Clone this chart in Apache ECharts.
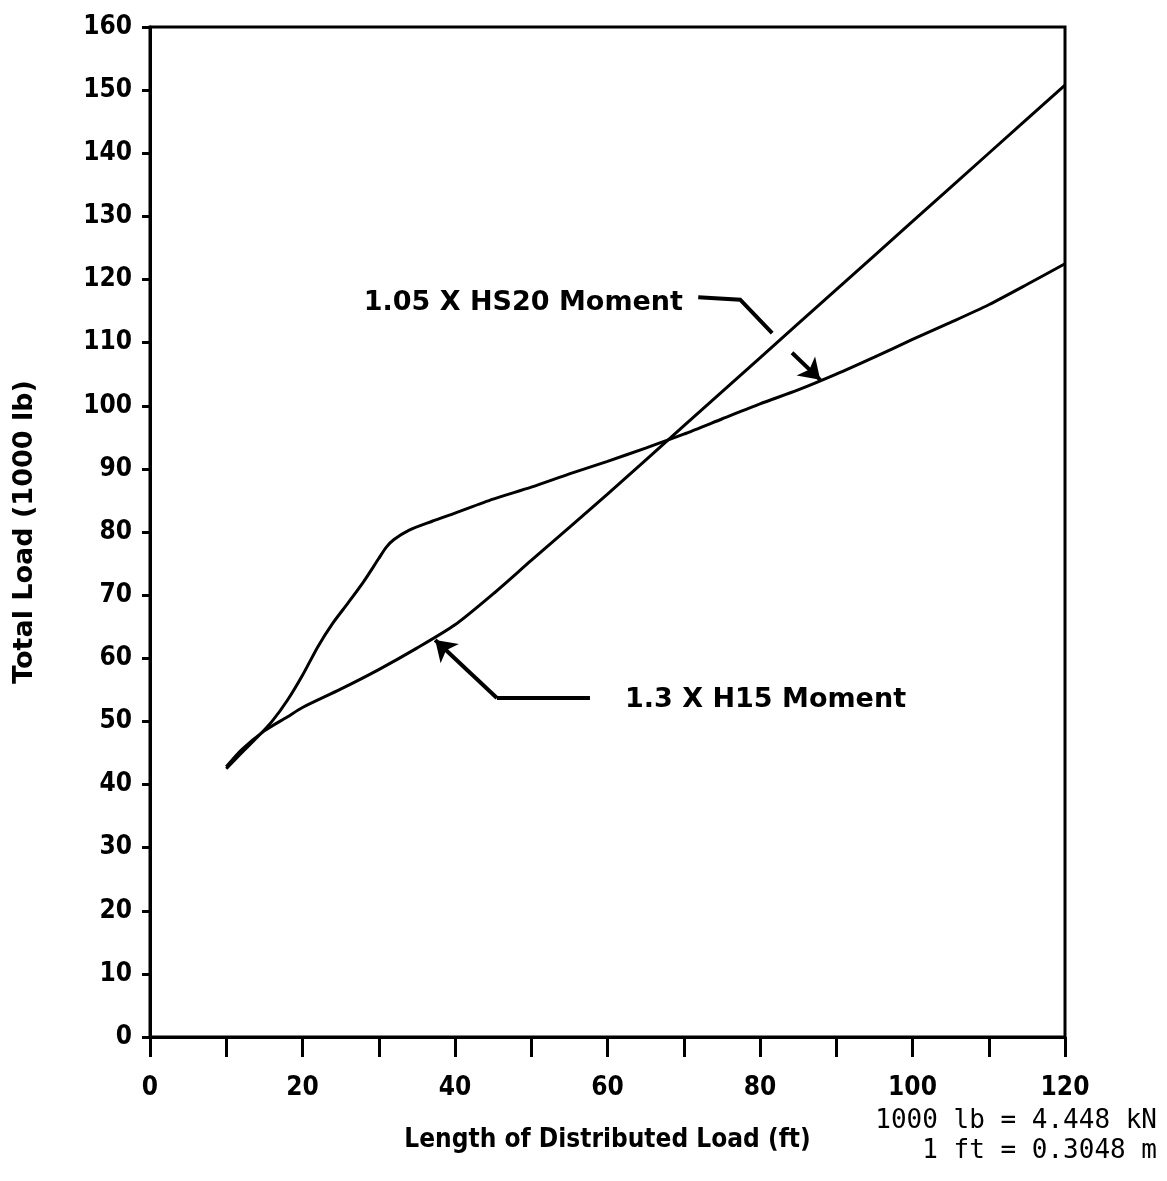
<!DOCTYPE html>
<html>
<head>
<meta charset="utf-8">
<script src="https://cdn.jsdelivr.net/npm/echarts@6/dist/echarts.min.js"></script>
<style>
html,body{margin:0;padding:0;background:#fff;}
#chart{width:1167px;height:1181px;}
</style>
</head>
<body>
<div id="chart"></div>
<script>
// ---- data ----
var hs20X = [10, 12, 14, 16, 18, 20, 22, 24, 26, 28, 30, 31, 32, 34, 37, 40, 45, 50, 55, 60, 65, 70, 75, 80, 85, 90, 95, 100, 105, 110, 115, 120];
var hs20Y = [42.5, 45.0, 47.4, 50.0, 53.3, 57.3, 61.8, 65.6, 68.8, 72.1, 75.8, 77.6, 78.8, 80.3, 81.7, 83.0, 85.2, 87.1, 89.2, 91.2, 93.3, 95.5, 97.9, 100.3, 102.5, 105, 107.7, 110.5, 113.2, 116, 119.2, 122.5];
var h15X = [10, 12, 15, 18, 20, 25, 30, 35, 40, 45, 50, 60, 70, 80, 90, 100, 110, 120];
var h15Y = [42.8, 45.5, 48.5, 50.7, 52.2, 55.1, 58.2, 61.6, 65.3, 70.2, 75.5, 86.0, 96.8, 107.6, 118.4, 129.2, 140.0, 150.8];
var seriesNames = ['1.05 X HS20 Moment', '1.3 X H15 Moment'];
var hs20Leader = [[71.9, 117.2], [77.4, 116.8], [81.6, 111.5]];
var hs20Arrow = [[84.2, 108.4], [87.9, 104.1]];
var h15Leader = [[57.7, 53.7], [45.5, 53.7]];
var h15Arrow = [[45.5, 53.7], [37.4, 62.9]];
var hs20LabelAt = [69.9, 116.3];
var h15LabelAt = [62.3, 53.4];
var xTicks = {min: 0, max: 120, interval: 10, labelEvery: 20};
var yTicks = {min: 0, max: 160, interval: 10};
var xName = 'Length of Distributed Load (ft)';
var yName = 'Total Load (1000 lb)';
var unitNotes = ['1000 lb = 4.448 kN', '1 ft = 0.3048 m'];

function zip(xs, ys) { return xs.map(function (x, i) { return [x, ys[i]]; }); }

var chart = echarts.init(document.getElementById('chart'));
var tickFont = '"Liberation Sans Narrow", "DejaVu Sans Condensed", "Liberation Sans", sans-serif';
var plotFont = '"DejaVu Sans", sans-serif';
var blackLine = {color: '#000', width: 4, opacity: 1};
chart.setOption({
  animation: false,
  backgroundColor: '#fff',
  grid: {left: 150, right: 102, top: 27, bottom: 144, show: true, borderColor: '#000', borderWidth: 3, backgroundColor: 'transparent'},
  xAxis: {
    type: 'value', min: xTicks.min, max: xTicks.max, interval: xTicks.interval,
    splitLine: {show: false},
    axisLine: {lineStyle: {color: '#000', width: 3}},
    axisTick: {length: 20, lineStyle: {color: '#000', width: 3}},
    axisLabel: {
      color: '#000', fontFamily: tickFont, fontWeight: 'bold', fontSize: 26, margin: 38,
      formatter: function (v) { return v % xTicks.labelEvery === 0 ? String(v) : ''; }
    },
    name: xName, nameLocation: 'middle', nameGap: 90,
    nameTextStyle: {color: '#000', fontFamily: tickFont, fontWeight: 'bold', fontSize: 26}
  },
  yAxis: {
    type: 'value', min: yTicks.min, max: yTicks.max, interval: yTicks.interval,
    splitLine: {show: false},
    axisLine: {lineStyle: {color: '#000', width: 3}},
    axisTick: {length: 8, lineStyle: {color: '#000', width: 3}},
    axisLabel: {color: '#000', fontFamily: tickFont, fontWeight: 'bold', fontSize: 26, margin: 18},
    name: yName, nameLocation: 'middle', nameGap: 112, nameRotate: 90,
    nameTextStyle: {color: '#000', fontFamily: plotFont, fontWeight: 'bold', fontSize: 27}
  },
  series: [
    {name: seriesNames[0], type: 'line', data: zip(hs20X, hs20Y), smooth: 0.25, showSymbol: false,
     lineStyle: {color: '#000', width: 3}},
    {name: seriesNames[1], type: 'line', data: zip(h15X, h15Y), smooth: 0.25, showSymbol: false,
     lineStyle: {color: '#000', width: 3}},
    {type: 'lines', coordinateSystem: 'cartesian2d', polyline: true, silent: true,
     symbol: ['none', 'none'], lineStyle: blackLine,
     data: [{coords: hs20Leader}, {coords: h15Leader}]},
    {type: 'lines', coordinateSystem: 'cartesian2d', silent: true,
     symbol: ['none', 'arrow'], symbolSize: [13, 20], lineStyle: blackLine,
     data: [{coords: hs20Arrow}, {coords: h15Arrow}]}
  ]
});

// annotation labels placed through the chart's own scales
var p1 = chart.convertToPixel({gridIndex: 0}, hs20LabelAt);
var p2 = chart.convertToPixel({gridIndex: 0}, h15LabelAt);
var annFont = 'bold 27px "DejaVu Sans", sans-serif';
chart.setOption({
  graphic: [
    {type: 'text', right: 10, top: 1108, style: {text: unitNotes[0], fill: '#000', font: '26px "DejaVu Sans Mono"', textAlign: 'right'}},
    {type: 'text', right: 10, top: 1138, style: {text: unitNotes[1], fill: '#000', font: '26px "DejaVu Sans Mono"', textAlign: 'right'}},
    {type: 'text', x: p1[0], y: p1[1], style: {text: seriesNames[0], fill: '#000', font: annFont, align: 'right', verticalAlign: 'middle'}},
    {type: 'text', x: p2[0], y: p2[1], style: {text: seriesNames[1], fill: '#000', font: annFont, align: 'left', verticalAlign: 'middle'}}
  ]
});
</script>
</body>
</html>
